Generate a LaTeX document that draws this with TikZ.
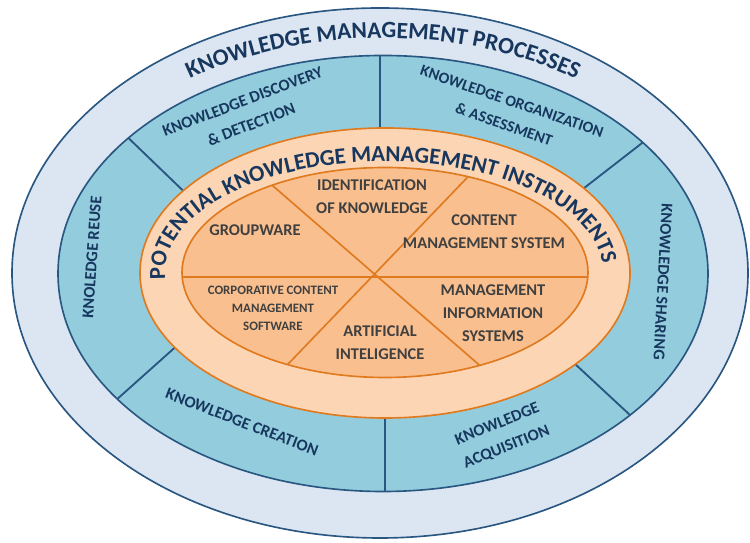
\documentclass[tikz,border=0pt]{standalone}
\usepackage{fontspec}
\setmainfont{Carlito}
\usepackage{xcolor}
\usepackage{tikz}
\usetikzlibrary{decorations.text}

\definecolor{kmouter}{HTML}{DCE6F2}
\definecolor{kmblue}{HTML}{93CDDD}
\definecolor{kmline}{HTML}{2A5781}
\definecolor{kmnavy}{HTML}{17375E}
\definecolor{kmpeach}{HTML}{FCD5B5}
\definecolor{kmorange}{HTML}{F9BF8F}
\definecolor{kmedge}{HTML}{E07A1F}
\definecolor{kmgray}{HTML}{404040}

\newcommand{\kmtitlefont}{\fontsize{20}{24}\selectfont\bfseries\color{kmnavy}}
\newcommand{\kminstfont}{\fontsize{19.5}{23}\selectfont\bfseries\color{kmnavy}}

\begin{document}
\begin{tikzpicture}[
  x=0.03cm, y=0.03cm,
  ring/.style={line width=1.4pt},
  divider/.style={line width=1.6pt, draw=kmline},
  spoke/.style={line width=1.4pt, draw=kmedge},
  proc/.style={
    font=\fontsize{14}{21}\selectfont\bfseries, text=kmnavy,
    align=center, inner sep=0pt
  },
  inst/.style={
    font=\fontsize{14}{19.5}\selectfont\bfseries, text=kmgray,
    align=center, inner sep=0pt
  },
  small/.style={inst, font=\fontsize{11}{15.5}\selectfont\bfseries},
]
  \useasboundingbox (0,0) rectangle (750,543);

  % Rings
  \draw[ring, fill=kmouter, draw=kmline] (380,270) ellipse[x radius=368, y radius=265];
  \draw[ring, fill=kmblue, draw=kmline] (383,269.5) ellipse[x radius=325, y radius=218];

  % Dividers of the process ring
  \begin{scope}
    \clip (383,269.5) ellipse[x radius=325, y radius=218];
    \draw[divider] (380,500) -- (380,380);
    \draw[divider] (118,415) -- (200,336);
    \draw[divider] (655,410) -- (570,344);
    \draw[divider] (105,133) -- (190,209);
    \draw[divider] (385,140) -- (385,40);
    \draw[divider] (560,193) -- (645,114);
  \end{scope}

  % Instrument rings
  \draw[ring, fill=kmpeach, draw=kmedge] (385,270) ellipse[x radius=245, y radius=145];
  \draw[ring, fill=kmorange, draw=kmedge] (385,270.5) ellipse[x radius=203, y radius=105];

  % Spokes
  \begin{scope}
    \clip (385,270.5) ellipse[x radius=203, y radius=105];
    \draw[spoke] (150,266) -- (620,266);
    \draw[spoke] (250,377) -- (500,160);
    \draw[spoke] (267,157) -- (487,386);
  \end{scope}

  % Curved titles
  \path[decorate, decoration={text along path, text align=center,
      text={|\kmtitlefont|KNOWLEDGE MANAGEMENT PROCESSES}}]
    (41,270) arc[start angle=180, end angle=0, x radius=342, y radius=235];
  \path[decorate, decoration={text along path, text align=center,
      text={|\kminstfont|POTENTIAL KNOWLEDGE MANAGEMENT INSTRUMENTS}}]
    ([shift={(186:219 and 111)}]384,270.5)
    arc[start angle=186, end angle=2, x radius=219, y radius=111];

  % Processes
  \node[proc, rotate=21]  (disc)  at (247,430) {KNOWLEDGE DISCOVERY\\\& DETECTION};
  \node[proc, rotate=-19, font=\fontsize{13.5}{21}\selectfont\bfseries]
                          (org)   at (508,430) {KNOWLEDGE ORGANIZATION\\\& ASSESSMENT};
  \node[proc, rotate=86]  (reuse) at (92,286)  {KNOLEDGE REUSE};
  \node[proc, rotate=-93] (share) at (663,261) {KNOWLEDGE SHARING};
  \node[proc, rotate=-21] (crea)  at (242,121) {KNOWLEDGE CREATION};
  \node[proc, rotate=22]  (acq)   at (502,107) {KNOWLEDGE\\ACQUISITION};

  % Instruments
  \node[inst]  (ident) at (372,346) {IDENTIFICATION\\OF KNOWLEDGE};
  \node[inst]  (group) at (255,313) {GROUPWARE};
  \node[inst]  (cms)   at (484,311) {CONTENT\\MANAGEMENT SYSTEM};
  \node[small] (ccms)  at (273,235) {CORPORATIVE CONTENT\\MANAGEMENT\\SOFTWARE};
  \node[inst]  (ai)    at (380,200) {ARTIFICIAL\\INTELIGENCE};
  \node[inst]  (mis)   at (493,230) {MANAGEMENT\\INFORMATION\\SYSTEMS};
\end{tikzpicture}
\end{document}
